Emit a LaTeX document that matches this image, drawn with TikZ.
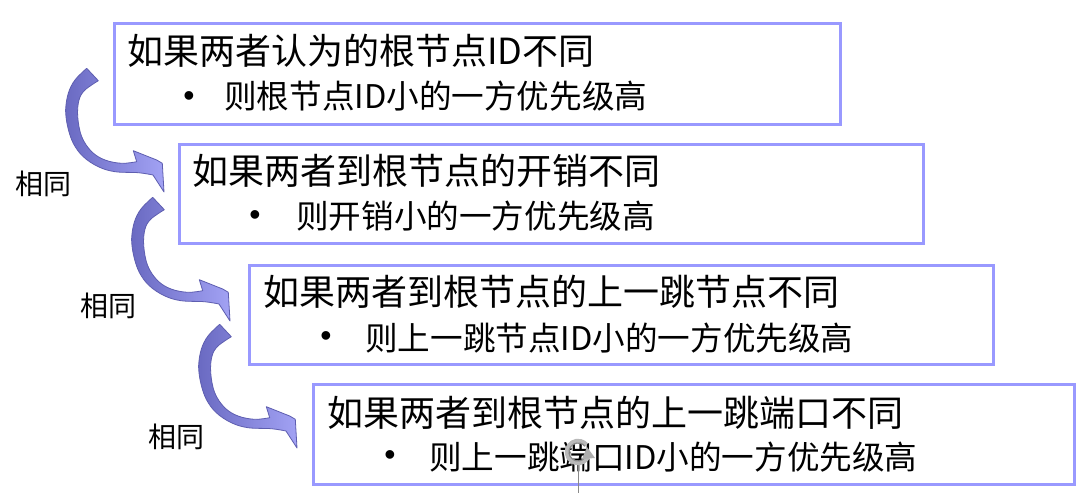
\documentclass[tikz,border=0pt]{standalone}
\usepackage{fontspec}
\setmainfont{Noto Sans CJK SC}
\newfontfamily\bulletfont{Liberation Sans}
\definecolor{boxc}{HTML}{9999FF}
\definecolor{arrdark}{HTML}{6A6AC2}
\definecolor{arrlight}{HTML}{A2A2F4}
\definecolor{arredge}{HTML}{5E5EB0}
\definecolor{handle}{HTML}{8A8A8A}
\tikzset{
  box/.style={draw=boxc, line width=3pt, rectangle, inner sep=0pt},
  title/.style={anchor=base west, inner sep=0pt, font=\fontsize{36}{40}\selectfont},
  item/.style={anchor=base west, inner sep=0pt, font=\fontsize{32.6}{36}\selectfont},
  bul/.style={inner sep=0pt, font=\bulletfont\fontsize{32}{36}\selectfont},
  same/.style={inner sep=0pt, font=\fontsize{28}{32}\selectfont},
  arrowshape/.style={draw=arredge, line width=0.8pt, left color=arrdark, right color=arrlight, line join=round},
  curvarrow/.pic={
    \path[arrowshape]
      plot[smooth, tension=0.6] coordinates {(86.7,68.3) (75,80) (68.3,93.3) (65.7,110) (67.7,126.7) (73.3,143.3) (83.3,156.7) (98.3,166.7) (115,171.7) (138.3,172.7) (153,175)}
      -- (164,192) -- (162.3,163.3) -- (156.7,160) -- (133.3,150.7) -- (136.7,161.7)
      -- plot[smooth, tension=0.6] coordinates {(136.7,161.7) (121.7,163.3) (105,160) (91.7,151.7) (81.7,136.7) (77.7,116.7) (79,100) (85,90) (98.3,80.7)}
      -- cycle;
  }
}
\begin{document}
\begin{tikzpicture}[x=1pt,y=-1pt]
\useasboundingbox (0,0) rectangle (1090,495);
\fill[white] (0,0) rectangle (1090,495);

% boxes
\node[box, minimum width=725.8pt, minimum height=100.2pt] (b1) at (477.6,73.9) {};
\node[box, minimum width=743.8pt, minimum height=98.6pt] (b2) at (551.6,194) {};
\node[box, minimum width=743.6pt, minimum height=99.4pt] (b3) at (621.5,315) {};
\node[box, minimum width=761.4pt, minimum height=100pt] (b4) at (694,434.7) {};

% texts
\node[title] (t1) at (127,65) {如果两者认为的根节点ID不同};
\node[bul] (p1) at (189,99) {•};
\node[item] (s1) at (224,108) {则根节点ID小的一方优先级高};

\node[title] (t2) at (192,184) {如果两者到根节点的开销不同};
\node[bul] (p2) at (255,218) {•};
\node[item] (s2) at (296,228) {则开销小的一方优先级高};

\node[title] (t3) at (263,305) {如果两者到根节点的上一跳节点不同};
\node[bul] (p3) at (326,339) {•};
\node[item] (s3) at (365,350) {则上一跳节点ID小的一方优先级高};

\node[title] (t4) at (327,426) {如果两者到根节点的上一跳端口不同};
\node[bul] (p4) at (390,458) {•};
\node[item] (s4) at (429,469) {则上一跳端口ID小的一方优先级高};

% curved arrows
\pic at (0,0) {curvarrow};
\pic at (66,129) {curvarrow};
\pic at (133,256) {curvarrow};

% labels
\node[same] (l1) at (44,184) {相同};
\node[same] (l2) at (108,306) {相同};
\node[same] (l3) at (176,437) {相同};

% rotation handle
\coordinate (hc) at (578,452);
\coordinate (hb) at (578,493);
\draw[handle, line width=1pt] (578,464) -- (hb);
\draw[handle!60, line width=4.5pt] (hc) ++(15:11) arc[start angle=15, end angle=320, radius=11];
\draw[handle, line width=1.2pt] (hc) ++(15:9) arc[start angle=15, end angle=320, radius=9];
\fill[handle!70] (587,447) -- (595,458) -- (582,459) -- cycle;
\end{tikzpicture}
\end{document}
